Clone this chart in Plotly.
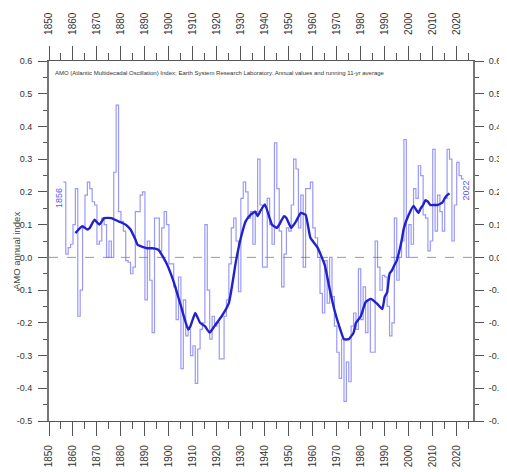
import plotly.graph_objects as go

# AMO annual index
years = list(range(1856, 2023))
amo = [
    0.23, 0.01, 0.03, 0.04, 0.10, 0.21, -0.18, -0.10, 0.09, 0.19,  # 1856-1865
    0.23, 0.21, 0.17, 0.16, 0.04, 0.05, 0.12, 0.10, 0.00, 0.05,  # 1866-1875
    0.00, 0.26, 0.465, 0.14, 0.11, 0.08, -0.01, -0.015, -0.05, -0.03,  # 1876-1885
    0.14, 0.14, 0.19, 0.20, -0.13, 0.05, -0.07, -0.23, 0.12, 0.12,  # 1886-1895
    0.02, 0.09, 0.14, 0.10, -0.02, -0.02, -0.09, -0.19, -0.06, -0.34,  # 1896-1905
    -0.13, -0.24, -0.22, -0.30, -0.27, -0.385, -0.28, -0.22, -0.20, 0.10,  # 1906-1915
    -0.10, -0.25, -0.18, -0.21, -0.20, -0.31, -0.31, -0.18, -0.13, -0.02,  # 1916-1925
    0.09, 0.12, 0.05, -0.105, 0.18, 0.23, 0.20, 0.12, 0.14, 0.04,  # 1926-1935
    0.14, 0.30, 0.16, -0.03, -0.03, 0.18, 0.10, 0.04, 0.35, 0.21,  # 1936-1945
    0.08, -0.09, 0.01, 0.09, 0.08, 0.16, 0.30, 0.27, 0.09, 0.19,  # 1946-1955
    -0.03, 0.21, 0.21, 0.23, 0.09, 0.06, 0.00, -0.11, -0.17, -0.01,  # 1956-1965
    -0.14, 0.00, -0.12, -0.21, -0.29, -0.37, -0.25, -0.44, -0.32, -0.38,  # 1966-1975
    -0.21, -0.17, -0.22, -0.035, -0.19, -0.09, -0.23, -0.13, -0.29, -0.29,  # 1976-1985
    0.05, -0.03, -0.10, -0.055, -0.06, -0.15, -0.24, -0.20, 0.12, -0.07,  # 1986-1995
    0.00, 0.05, 0.36, 0.00, 0.10, 0.04, 0.21, 0.18, 0.28, 0.25,  # 1996-2005
    0.13, 0.12, 0.02, 0.05, 0.33, 0.08, 0.19, 0.14, 0.08, 0.18,  # 2006-2015
    0.33, 0.30, 0.05, 0.16, 0.29, 0.25, 0.24,  # 2016-2022
]

# running 11-yr average
smooth_years = [
    1861, 1863, 1864, 1866, 1867, 1869, 1871, 1873, 1876, 1879, 1882, 1884,
    1886, 1887, 1891, 1893, 1895, 1896, 1899, 1902, 1905, 1908, 1909, 1911,
    1913, 1915, 1917, 1919, 1920, 1922, 1925, 1928, 1930, 1932, 1934, 1936,
    1937, 1938, 1940, 1942, 1943, 1945, 1946, 1948, 1949, 1951, 1953, 1955,
    1957, 1959, 1962, 1965, 1967, 1969, 1971, 1973, 1975, 1977, 1978, 1980,
    1982, 1984, 1985, 1987, 1989, 1990, 1991, 1992, 1993, 1994, 1995, 1996,
    1997, 1998, 2000, 2002, 2004, 2005, 2006, 2007, 2008, 2009, 2011, 2012,
    2014, 2015, 2016, 2017,
]
smooth = [
    0.074, 0.09, 0.095, 0.085, 0.09, 0.115, 0.10, 0.12, 0.12, 0.11, 0.10, 0.085,
    0.055, 0.038, 0.028, 0.028, 0.025, 0.02, -0.018, -0.075, -0.148, -0.22, -0.21, -0.17,
    -0.20, -0.21, -0.23, -0.21, -0.20, -0.18, -0.14, -0.01, 0.06, 0.11, 0.13, 0.14,
    0.126, 0.14, 0.162, 0.12, 0.10, 0.09, 0.10, 0.126, 0.12, 0.09, 0.11, 0.136,
    0.13, 0.06, 0.03, -0.024, -0.096, -0.16, -0.21, -0.25, -0.25, -0.23, -0.20, -0.18,
    -0.137, -0.127, -0.13, -0.143, -0.158, -0.12, -0.107, -0.05, -0.04, -0.024, -0.01, 0.017,
    0.05, 0.09, 0.13, 0.157, 0.136, 0.15, 0.16, 0.175, 0.17, 0.16, 0.16, 0.16,
    0.167, 0.18, 0.19, 0.195,
]

y_ticks = [0.6, 0.5, 0.4, 0.3, 0.2, 0.1, 0.0, -0.1, -0.2, -0.3, -0.4, -0.5]
y_tick_labels = ["0.6", "0.5", "0.4", "0.3", "0.2", "0.1", "0.0",
                 "-0.1", "-0.2", "-0.3", "-0.4", "-0.5"]

SANS = "Liberation Sans, Arial"
AXIS = "#555555"

# step edges so the last year gets its own width
step_x = years + [years[-1] + 1]
step_y = amo + [amo[-1]]

fig = go.Figure()
fig.add_trace(go.Scatter(
    x=step_x, y=step_y, mode="lines", line_shape="hv",
    line=dict(color="rgba(110,110,245,0.7)", width=1.2),
    hoverinfo="skip",
))
fig.add_trace(go.Scatter(
    x=smooth_years, y=smooth, mode="lines", xaxis="x2", yaxis="y2",
    line=dict(color="#2222cc", width=2.4, shape="spline", smoothing=0.4),
))

xcommon = dict(
    range=[1850, 2026.8], tick0=1850, dtick=10, ticks="outside", ticklen=14,
    tickwidth=1, tickcolor=AXIS, tickangle=-90, automargin=False,
    tickfont=dict(family=SANS, size=10, color="#333333"),
    showline=True, linecolor=AXIS, linewidth=1.2, showgrid=False, zeroline=False,
    minor=dict(tick0=1850, dtick=5, ticks="outside", ticklen=7, tickcolor=AXIS,
               showgrid=False),
)
ycommon = dict(
    range=[-0.5, 0.6], tickvals=y_ticks, ticktext=y_tick_labels,
    ticks="outside", ticklen=9, tickwidth=1, tickcolor=AXIS, automargin=False,
    tickfont=dict(family=SANS, size=9, color="#333333"),
    showline=True, linecolor="#777777", linewidth=1.8, showgrid=False, zeroline=False,
    minor=dict(dtick=0.05, tick0=0, ticks="outside", ticklen=4, tickcolor=AXIS,
               showgrid=False),
)

# the page body adds an 8px offset, so the figure is 8px smaller than the window
fig.update_layout(
    width=499, height=464,
    margin=dict(l=41, r=34, t=53, b=51),
    plot_bgcolor="white", paper_bgcolor="white", showlegend=False,
    xaxis=dict(xcommon, side="bottom", ticklabelstandoff=5),
    xaxis2=dict(xcommon, side="top", overlaying="x", matches="x",
                ticklabelstandoff=9),
    yaxis=dict(ycommon, side="left", ticklabelstandoff=4),
    yaxis2=dict(ycommon, side="right", overlaying="y", matches="y",
                ticklabelstandoff=3),
)

fig.add_shape(type="line", xref="paper", x0=0, x1=1, yref="y", y0=0, y1=0,
              line=dict(color="#999999", width=1, dash="dash"), layer="below")

fig.add_annotation(
    xref="x", yref="y", x=1851.6, y=0.564, xanchor="left", yanchor="middle",
    text="AMO (Atlantic Multidecadal Oscillation) Index; Earth System Research "
         "Laboratory. Annual values and running 11-yr average",
    showarrow=False, font=dict(family=SANS, size=6.0, color="#333333"),
)
fig.add_annotation(
    xref="paper", yref="y", x=-0.075, y=0.02, xanchor="center", yanchor="middle",
    text="AMO annual index", textangle=-90, showarrow=False,
    font=dict(family=SANS, size=9.5, color="#444444"),
)
fig.add_annotation(
    xref="x", yref="y", x=years[0] - 1.6, y=0.18, xanchor="center",
    text=str(years[0]), textangle=-90, showarrow=False,
    font=dict(family=SANS, size=9, color="#5a5af0"),
)
fig.add_annotation(
    xref="x", yref="y", x=years[-1] + 2.0, y=0.205, xanchor="center",
    text=str(years[-1]), textangle=-90, showarrow=False,
    font=dict(family=SANS, size=9, color="#5a5af0"),
)

fig.write_html("out.html")
